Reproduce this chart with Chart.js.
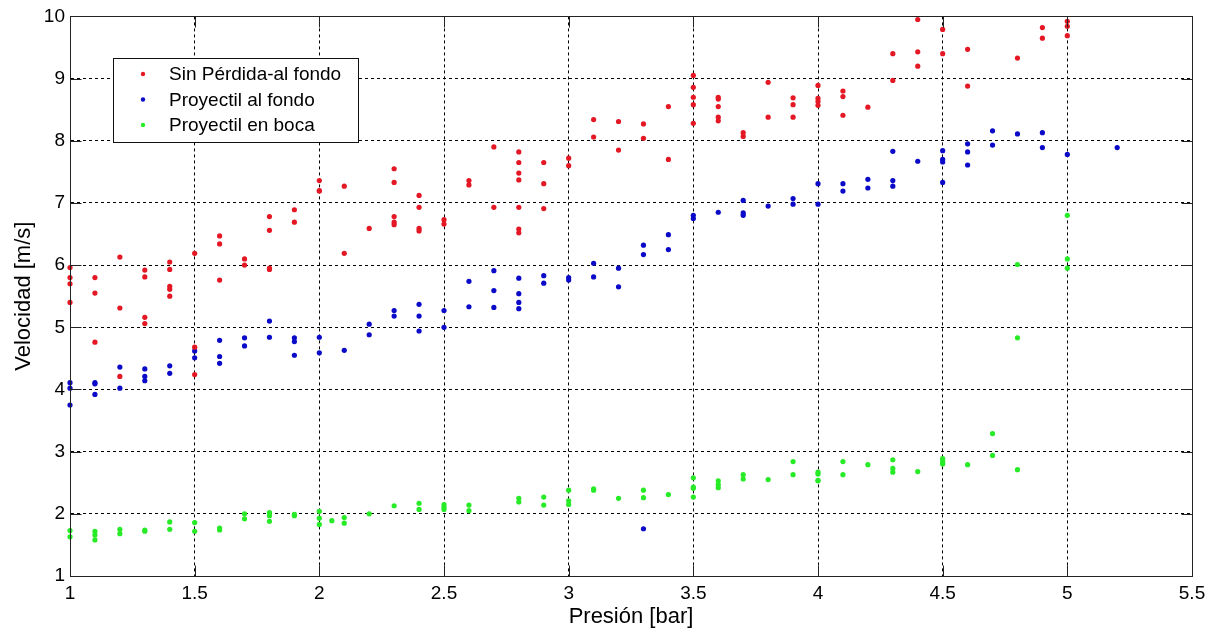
<!DOCTYPE html>
<html>
<head>
<meta charset="utf-8">
<script src="https://cdn.jsdelivr.net/npm/chart.js@4/dist/chart.umd.min.js"></script>
<style>
  html, body { margin: 0; padding: 0; background: #fff; }
  #wrap { width: 1212px; height: 631px; }
</style>
</head>
<body>
<div id="wrap"><canvas id="myChart"></canvas></div>
<script>
// presion [bar] -> velocidades medidas [m/s]
const sinPerdida = [
  [1.0, [5.96, 5.80, 5.70, 5.40]],
  [1.1, [5.80, 5.55, 4.76]],
  [1.2, [6.13, 5.31, 4.21]],
  [1.3, [5.92, 5.81, 5.16, 5.06]],
  [1.4, [6.05, 5.93, 5.66, 5.61, 5.50]],
  [1.5, [6.19, 4.68, 4.24]],
  [1.6, [6.47, 6.34, 5.76]],
  [1.7, [6.10, 6.00]],
  [1.8, [6.78, 6.56, 5.95, 5.93]],
  [1.9, [6.89, 6.69]],
  [2.0, [7.36, 7.20, 7.19]],
  [2.1, [7.27, 6.19]],
  [2.2, [6.59]],
  [2.3, [7.55, 7.33, 6.78, 6.69, 6.65]],
  [2.4, [7.12, 6.93, 6.59, 6.55]],
  [2.5, [6.73, 6.66]],
  [2.6, [7.36, 7.29]],
  [2.7, [7.90, 6.93]],
  [2.8, [7.82, 7.65, 7.48, 7.37, 6.93, 6.58, 6.52]],
  [2.9, [7.65, 7.31, 6.91]],
  [3.0, [7.72, 7.60]],
  [3.1, [8.34, 8.06]],
  [3.2, [8.31, 7.85]],
  [3.3, [8.27, 8.04]],
  [3.4, [8.55, 7.70]],
  [3.5, [9.05, 8.86, 8.70, 8.58, 8.28]],
  [3.6, [8.70, 8.67, 8.55, 8.38, 8.32]],
  [3.7, [8.13, 8.07]],
  [3.8, [8.94, 8.38]],
  [3.9, [8.69, 8.58, 8.38]],
  [4.0, [8.89, 8.68, 8.63, 8.57]],
  [4.1, [8.80, 8.71, 8.41]],
  [4.2, [8.54]],
  [4.3, [9.40, 8.97]],
  [4.4, [9.95, 9.43, 9.20]],
  [4.5, [9.79, 9.40]],
  [4.6, [9.47, 8.88]],
  [4.8, [9.33]],
  [4.9, [9.82, 9.65]],
  [5.0, [9.92, 9.84, 9.69]]
];

const alFondo = [
  [1.0, [4.11, 4.02, 3.75]],
  [1.1, [4.11, 4.09, 3.92]],
  [1.2, [4.36, 4.02]],
  [1.3, [4.33, 4.21, 4.14]],
  [1.4, [4.38, 4.26]],
  [1.5, [4.62, 4.51]],
  [1.6, [4.79, 4.53, 4.42]],
  [1.7, [4.83, 4.70]],
  [1.8, [5.10, 4.84]],
  [1.9, [4.83, 4.77, 4.55]],
  [2.0, [4.84, 4.59]],
  [2.1, [4.63]],
  [2.2, [5.05, 4.88]],
  [2.3, [5.27, 5.18]],
  [2.4, [5.37, 5.18, 4.94]],
  [2.5, [5.27, 5.00]],
  [2.6, [5.74, 5.33]],
  [2.7, [5.91, 5.59, 5.32]],
  [2.8, [5.79, 5.54, 5.40, 5.30]],
  [2.9, [5.83, 5.71]],
  [3.0, [5.80, 5.76]],
  [3.1, [6.03, 5.81]],
  [3.2, [5.95, 5.65]],
  [3.3, [6.32, 6.17, 1.76]],
  [3.4, [6.49, 6.25]],
  [3.5, [6.80, 6.75]],
  [3.6, [6.85]],
  [3.7, [7.04, 6.84, 6.80]],
  [3.8, [6.95]],
  [3.9, [7.07, 6.98]],
  [4.0, [7.31, 6.98]],
  [4.1, [7.31, 7.19]],
  [4.2, [7.38, 7.24]],
  [4.3, [7.83, 7.36, 7.27]],
  [4.4, [7.67]],
  [4.5, [7.84, 7.70, 7.66, 7.33]],
  [4.6, [7.95, 7.82, 7.61]],
  [4.7, [8.16, 7.93]],
  [4.8, [8.11]],
  [4.9, [8.13, 7.89]],
  [5.0, [7.78]],
  [5.2, [7.89]]
];

const enBoca = [
  [1.0, [1.73, 1.63]],
  [1.1, [1.72, 1.66, 1.58]],
  [1.2, [1.75, 1.68]],
  [1.3, [1.74, 1.72]],
  [1.4, [1.87, 1.75]],
  [1.5, [1.86, 1.72]],
  [1.6, [1.77, 1.74]],
  [1.7, [2.00, 1.92]],
  [1.8, [2.02, 1.97, 1.88]],
  [1.9, [1.99, 1.97]],
  [2.0, [2.04, 1.93, 1.83]],
  [2.05, [1.89]],
  [2.1, [1.94, 1.85]],
  [2.2, [2.00]],
  [2.3, [2.13]],
  [2.4, [2.17, 2.07]],
  [2.5, [2.15, 2.11, 2.07]],
  [2.6, [2.14, 2.05]],
  [2.8, [2.25, 2.19]],
  [2.9, [2.27, 2.14]],
  [3.0, [2.38, 2.21, 2.15]],
  [3.1, [2.40, 2.38]],
  [3.2, [2.25]],
  [3.3, [2.38, 2.26]],
  [3.4, [2.31]],
  [3.5, [2.58, 2.43, 2.41, 2.27]],
  [3.6, [2.53, 2.47, 2.42]],
  [3.7, [2.63, 2.56]],
  [3.8, [2.55]],
  [3.9, [2.84, 2.63]],
  [4.0, [2.67, 2.64, 2.54, 2.53]],
  [4.1, [2.84, 2.63]],
  [4.2, [2.79]],
  [4.3, [2.87, 2.73, 2.67]],
  [4.4, [2.68]],
  [4.5, [2.89, 2.85, 2.82, 2.80]],
  [4.6, [2.79]],
  [4.7, [3.29, 2.94]],
  [4.8, [6.01, 4.83, 2.71]],
  [5.0, [6.80, 6.10, 5.95]]
];

const seriesNames = ['Sin Pérdida-al fondo', 'Proyectil al fondo', 'Proyectil en boca'];
const seriesColors = ['rgb(228, 24, 36)', 'rgb(10, 10, 200)', 'rgb(40, 235, 40)'];

const xTicks = [1, 1.5, 2, 2.5, 3, 3.5, 4, 4.5, 5, 5.5];
const yTicks = [1, 2, 3, 4, 5, 6, 7, 8, 9, 10];

const FONT = 'Liberation Sans, Arial, Helvetica, sans-serif';

//pasa [presion, [v1, v2..]] a puntos {x, y}
function toPoints(rows) {
  const pts = [];
  rows.forEach(row => {
    row[1].forEach(v => pts.push({ x: row[0], y: v }));
  });
  return pts;
}

// caja, ticks hacia dentro y leyenda al estilo matlab
const matlabBox = {
  id: 'matlabBox',
  afterDraw(chart) {
    const ctx = chart.ctx;
    const a = chart.chartArea;
    const xs = chart.scales.x;
    const ys = chart.scales.y;
    const L = Math.round(a.left) + 0.5, R = Math.round(a.right) + 0.5;
    const T = Math.round(a.top) + 0.5, B = Math.round(a.bottom) + 0.5;
    const tl = 11;

    ctx.save();
    ctx.setLineDash([]);
    ctx.strokeStyle = '#222';
    ctx.lineWidth = 1;
    ctx.strokeRect(L, T, R - L, B - T);

    ctx.beginPath();
    xTicks.forEach(v => {
      const px = Math.round(xs.getPixelForValue(v)) + 0.5;
      ctx.moveTo(px, B); ctx.lineTo(px, B - tl);
      ctx.moveTo(px, T); ctx.lineTo(px, T + tl);
    });
    yTicks.forEach(v => {
      const py = Math.round(ys.getPixelForValue(v)) + 0.5;
      ctx.moveTo(L, py); ctx.lineTo(L + tl, py);
      ctx.moveTo(R, py); ctx.lineTo(R - tl, py);
    });
    ctx.stroke();

    // leyenda
    const bx = 113.5, by = 58.5, bw = 245, bh = 84;
    ctx.fillStyle = '#fff';
    ctx.fillRect(bx, by, bw, bh);
    ctx.strokeStyle = '#111';
    ctx.strokeRect(bx, by, bw, bh);
    ctx.font = '19px ' + FONT;
    ctx.textBaseline = 'middle';
    ctx.textAlign = 'left';
    chart.data.datasets.forEach((ds, i) => {
      const cy = 74 + i * 25.5;
      ctx.fillStyle = ds.backgroundColor;
      ctx.beginPath();
      ctx.arc(143, cy, 2.2, 0, Math.PI * 2);
      ctx.fill();
      ctx.fillStyle = '#000';
      ctx.fillText(ds.label, 169, cy + 1);
    });
    ctx.restore();
  }
};

const data = {
  datasets: [sinPerdida, alFondo, enBoca].map((rows, i) => ({
    label: seriesNames[i],
    data: toPoints(rows),
    backgroundColor: seriesColors[i],
    borderColor: seriesColors[i],
    pointStyle: 'circle',
    pointRadius: 2.6,
    pointBorderWidth: 0,
    pointHoverRadius: 2.6,
    clip: false
  }))
};

const config = {
  type: 'scatter',
  data: data,
  options: {
    responsive: true,
    maintainAspectRatio: false,
    animation: false,
    layout: { padding: { top: 16, right: 20, left: 0, bottom: 0 } },
    plugins: {
      legend: { display: false },
      tooltip: { enabled: false }
    },
    scales: {
      x: {
        type: 'linear',
        min: 1,
        max: 5.5,
        afterBuildTicks: scale => { scale.ticks = xTicks.map(v => ({ value: v })); },
        afterFit: scale => { scale.height = 55; },
        ticks: {
          color: '#000',
          padding: 6,
          maxRotation: 0,
          font: { family: FONT, size: 19 },
          callback: v => String(v)
        },
        grid: { color: '#000', lineWidth: 1, drawTicks: false },
        border: { display: true, color: '#222', dash: [3, 3] },
        title: {
          display: true,
          text: 'Presión [bar]',
          color: '#000',
          font: { family: FONT, size: 22 },
          padding: { top: 0, bottom: 1 }
        }
      },
      y: {
        type: 'linear',
        min: 1,
        max: 10,
        afterBuildTicks: scale => { scale.ticks = yTicks.map(v => ({ value: v })); },
        afterFit: scale => { scale.width = 70; },
        ticks: {
          color: '#000',
          padding: 5,
          font: { family: FONT, size: 19 },
          callback: v => String(v)
        },
        grid: { color: '#000', lineWidth: 1, drawTicks: false },
        border: { display: true, color: '#222', dash: [3, 3] },
        title: {
          display: true,
          text: 'Velocidad [m/s]',
          color: '#000',
          font: { family: FONT, size: 22 },
          padding: { top: 11, bottom: 0 }
        }
      }
    }
  },
  plugins: [matlabBox]
};

const myChart = new Chart(document.getElementById('myChart'), config);
</script>
</body>
</html>
